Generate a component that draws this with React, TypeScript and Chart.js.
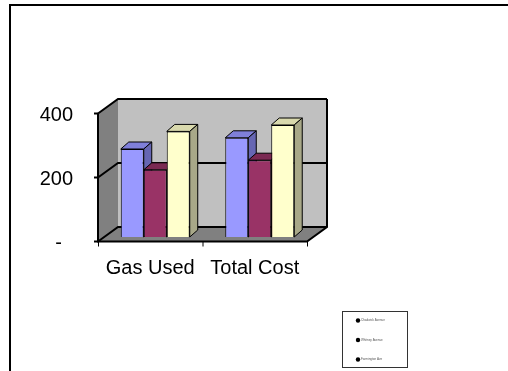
import React, { useEffect, useRef } from "react";
import { Chart, registerables } from "chart.js";

Chart.register(...registerables);

const categories = ["Gas Used", "Total Cost"];
const seriesNames = ["Chadwick Avenue", "Whitney Avenue", "Farmington Ave"];
const seriesA = [275, 310];
const seriesB = [210, 240];
const seriesC = [330, 350];
const yTickValues = [0, 200, 400];
const yTickLabels = ["-  ", "200", "400"];

const frontFaceColors = ["#9999FF", "#993366", "#FFFFCC"];
const topFaceColors = ["#7F7FD9", "#7A2952", "#D9D9AD"];
const sideFaceColors = ["#6666B3", "#66223F", "#A8A888"];

const FRONT = { x: -5, y: 4.5 };
const BACK = { x: 15, y: -10 };
const BAR_DEPTH = { x: 8, y: -7 };

const threeD = {
  id: "threeD",
  beforeDatasetsDraw(chart: any) {
    const { ctx, chartArea, scales } = chart;
    const ys = scales.y;
    const xL = chartArea.left;
    const xR = chartArea.right;
    const y0 = ys.getPixelForValue(0);
    const yMax = ys.getPixelForValue(ys.max);
    ctx.save();
    // side wall
    ctx.fillStyle = "#808080";
    ctx.beginPath();
    ctx.moveTo(xL + FRONT.x, y0 + FRONT.y);
    ctx.lineTo(xL + FRONT.x, yMax + FRONT.y);
    ctx.lineTo(xL + BACK.x, yMax + BACK.y);
    ctx.lineTo(xL + BACK.x, y0 + BACK.y);
    ctx.closePath();
    ctx.fill();
    // floor
    ctx.beginPath();
    ctx.moveTo(xL + FRONT.x, y0 + FRONT.y);
    ctx.lineTo(xR + FRONT.x, y0 + FRONT.y);
    ctx.lineTo(xR + BACK.x, y0 + BACK.y);
    ctx.lineTo(xL + BACK.x, y0 + BACK.y);
    ctx.closePath();
    ctx.fill();
    // back wall
    ctx.fillStyle = "#C0C0C0";
    ctx.fillRect(xL + BACK.x, yMax + BACK.y, xR - xL, y0 - yMax);

    ctx.strokeStyle = "#000";
    ctx.lineWidth = 2;
    yTickValues.forEach((v) => {
      const py = ys.getPixelForValue(v);
      ctx.beginPath();
      ctx.moveTo(xL + FRONT.x, py + FRONT.y);
      ctx.lineTo(xL + BACK.x, py + BACK.y);
      ctx.lineTo(xR + BACK.x, py + BACK.y);
      ctx.stroke();
      ctx.beginPath();
      ctx.moveTo(xL + FRONT.x - 4, py + FRONT.y);
      ctx.lineTo(xL + FRONT.x, py + FRONT.y);
      ctx.stroke();
    });
    ctx.beginPath();
    ctx.moveTo(xR + BACK.x, yMax + BACK.y);
    ctx.lineTo(xR + BACK.x, y0 + BACK.y);
    ctx.lineTo(xR + FRONT.x, y0 + FRONT.y);
    ctx.lineTo(xL + FRONT.x, y0 + FRONT.y);
    ctx.lineTo(xL + FRONT.x, yMax + FRONT.y);
    ctx.stroke();
    ctx.lineWidth = 1;
    const n = categories.length;
    for (let i = 0; i <= n; i++) {
      const px = xL + ((xR - xL) * i) / n + FRONT.x;
      ctx.beginPath();
      ctx.moveTo(px + 0.5, y0 + FRONT.y);
      ctx.lineTo(px + 0.5, y0 + FRONT.y + 5);
      ctx.stroke();
    }
    chart.data.datasets.forEach((ds: any, di: number) => {
      const meta = chart.getDatasetMeta(di);
      meta.data.forEach((el: any) => {
        const p = el.getProps(["x", "y", "base", "width"], true);
        const left = p.x - p.width / 2;
        const right = p.x + p.width / 2;
        const top = p.y;
        const bottom = p.base;
        ctx.lineWidth = 1;
        ctx.strokeStyle = "#000";
        ctx.fillStyle = topFaceColors[di];
        ctx.beginPath();
        ctx.moveTo(left, top);
        ctx.lineTo(right, top);
        ctx.lineTo(right + BAR_DEPTH.x, top + BAR_DEPTH.y);
        ctx.lineTo(left + BAR_DEPTH.x, top + BAR_DEPTH.y);
        ctx.closePath();
        ctx.fill();
        ctx.stroke();
        ctx.fillStyle = sideFaceColors[di];
        ctx.beginPath();
        ctx.moveTo(right, top);
        ctx.lineTo(right + BAR_DEPTH.x, top + BAR_DEPTH.y);
        ctx.lineTo(right + BAR_DEPTH.x, bottom + BAR_DEPTH.y);
        ctx.lineTo(right, bottom);
        ctx.closePath();
        ctx.fill();
        ctx.stroke();
      });
    });
    ctx.restore();
  },
  afterDraw(chart: any) {
    const { ctx } = chart;
    ctx.save();
    ctx.strokeStyle = "#000";
    ctx.lineWidth = 2;
    ctx.beginPath();
    ctx.moveTo(10, 371);
    ctx.lineTo(10, 5);
    ctx.lineTo(508, 5);
    ctx.stroke();
    ctx.lineWidth = 1;
    ctx.strokeStyle = "#333";
    ctx.strokeRect(342.5, 311.5, 65, 56);
    chart.data.datasets.forEach((ds: any, i: number) => {
      const cy = 320.5 + i * 19.5;
      ctx.fillStyle = "#000";
      ctx.beginPath();
      ctx.arc(358, cy, 2.2, 0, Math.PI * 2);
      ctx.fill();
      ctx.fillStyle = "#555";
      ctx.font = "3px 'Liberation Sans', Arial, sans-serif";
      ctx.textBaseline = "middle";
      ctx.textAlign = "left";
      ctx.fillText(ds.label, 361, cy);
    });
    ctx.restore();
  },
};

export default function App() {
  const ref = useRef<HTMLCanvasElement>(null);
  useEffect(() => {
    if (!ref.current) return;
    const font = { family: "'Liberation Sans', Arial, sans-serif", size: 20 };
    const chart = new Chart(ref.current, {
      type: "bar",
      data: {
        labels: categories,
        datasets: [seriesA, seriesB, seriesC].map((d, i) => ({
          label: seriesNames[i],
          data: d,
          backgroundColor: frontFaceColors[i],
          borderColor: "#000",
          borderWidth: 1,
          categoryPercentage: 0.66,
          barPercentage: 1.0,
        })),
      },
      options: {
        animation: false,
        responsive: false,
        devicePixelRatio: 1,
        layout: { padding: { left: 0, top: 109, right: 196, bottom: 0 } },
        plugins: { legend: { display: false }, tooltip: { enabled: false } },
        scales: {
          x: {
            grid: { display: false, drawTicks: false },
            border: { display: false },
            ticks: { font, color: "#000", padding: 19, labelOffset: -5, maxRotation: 0, autoSkip: false },
            afterFit: (s: any) => {
              s.height = 134;
            },
          },
          y: {
            min: 0,
            max: 400,
            grid: { display: false, drawTicks: false },
            border: { display: false },
            afterBuildTicks: (s: any) => {
              s.ticks = yTickValues.map((v) => ({ value: v }));
            },
            ticks: {
              font,
              color: "#000",
              padding: 30,
              labelOffset: 6,
              callback: (v: any) => yTickLabels[yTickValues.indexOf(Number(v))],
            },
            afterFit: (s: any) => {
              s.width = 103;
            },
          },
        },
      },
      plugins: [threeD],
    });
    return () => chart.destroy();
  }, []);
  return (
    <div style={{ position: "fixed", left: 0, top: 0, width: 508, height: 371, background: "#fff" }}>
      <canvas ref={ref} width={508} height={371} style={{ display: "block" }} />
    </div>
  );
}
